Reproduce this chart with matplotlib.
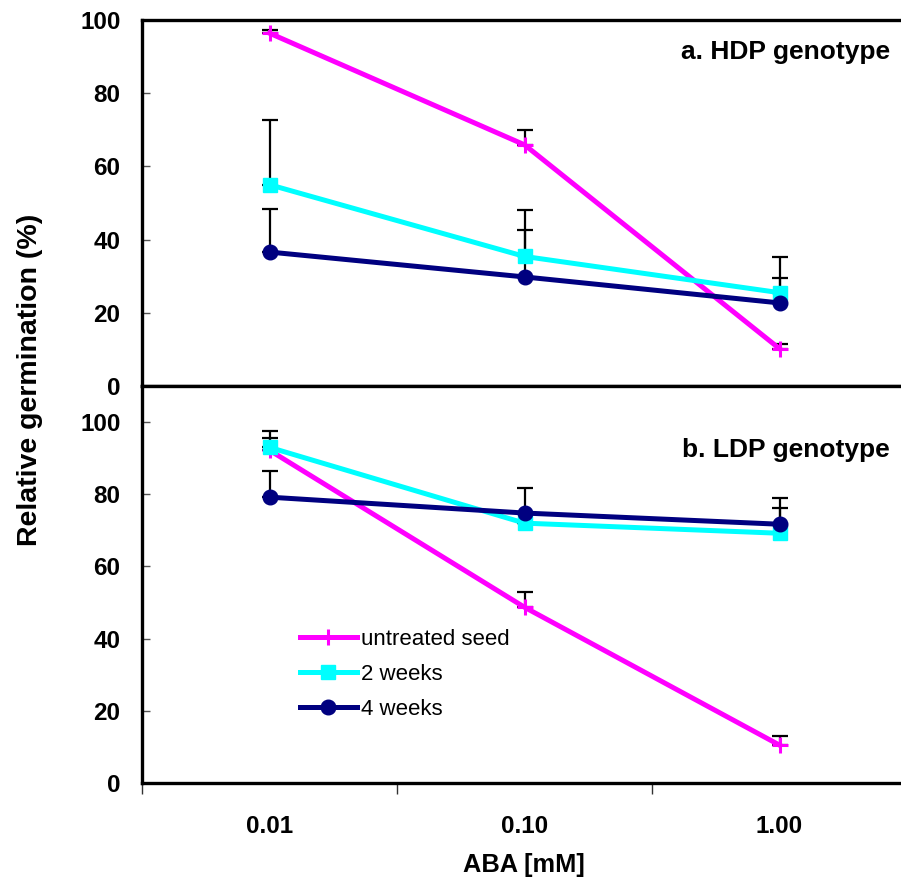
import matplotlib
matplotlib.use("Agg")
import matplotlib.pyplot as plt
import numpy as np

categories = ["0.01", "0.10", "1.00"]
series_names = ["untreated seed", "2 weeks", "4 weeks"]

hdp_untreated = [96.4, 65.9, 10.2]
hdp_untreated_err = [1.0, 4.1, 1.2]
hdp_2wk = [55.0, 35.4, 25.5]
hdp_2wk_err = [17.7, 12.8, 9.8]
hdp_4wk = [36.6, 29.8, 22.7]
hdp_4wk_err = [11.8, 12.9, 6.9]

ldp_untreated = [92.2, 48.7, 10.5]
ldp_untreated_err = [3.3, 4.2, 2.5]
ldp_2wk = [93.0, 72.0, 69.2]
ldp_2wk_err = [4.4, 0.0, 6.9]
ldp_4wk = [79.2, 74.8, 71.7]
ldp_4wk_err = [7.2, 6.9, 7.2]

yticks = [0, 20, 40, 60, 80, 100]

colors = ["#FF00FF", "#00FFFF", "#000080"]
markers = ["+", "s", "o"]

plt.rcParams['font.family'] = ['Liberation Sans', 'DejaVu Sans']

W, H = 901, 888
fig = plt.figure(figsize=(W / 100, H / 100), dpi=100)

def fx(px):
    return px / W

def fy(py):
    return 1 - py / H

left = fx(142)
width = fx(907) - left
ax_top = fig.add_axes([left, fy(386), width, fy(20) - fy(386)])
ax_bot = fig.add_axes([left, fy(783), width, fy(386) - fy(783)])

x = np.arange(1, len(categories) + 1)


def draw(ax, vals, errs, ymax):
    for i, (v, e) in enumerate(zip(vals, errs)):
        ax.errorbar(x, v, yerr=[np.zeros(len(e)), e], fmt='none', ecolor='black',
                    elinewidth=1.6, capsize=5.5, capthick=1.6, zorder=2)
    for i, v in enumerate(vals):
        ms = 11 if markers[i] == '+' else 10.5
        ax.plot(x, v, color=colors[i], marker=markers[i], markersize=ms,
                markeredgewidth=2.2 if markers[i] == '+' else 1,
                markerfacecolor=colors[i], markeredgecolor=colors[i],
                linewidth=3.6, zorder=3 + i, label=series_names[i],
                clip_on=False)
    ax.set_xlim(0.5, 3.5)
    ax.set_ylim(0, ymax)
    ax.set_yticks(yticks)
    ax.set_yticklabels([str(t) for t in yticks], fontsize=17.5, fontweight='bold')
    ax.tick_params(axis='y', direction='in', length=6, width=1, color='#555555', pad=15.5)
    for s in ['left', 'top', 'bottom']:
        ax.spines[s].set_linewidth(2.4)
        ax.spines[s].set_color('black')
    ax.spines['right'].set_visible(False)


draw(ax_top, [hdp_untreated, hdp_2wk, hdp_4wk],
     [hdp_untreated_err, hdp_2wk_err, hdp_4wk_err], 100)
draw(ax_bot, [ldp_untreated, ldp_2wk, ldp_4wk],
     [ldp_untreated_err, ldp_2wk_err, ldp_4wk_err], 110)

ax_top.set_xticks([])
ax_top.set_xticks([], minor=True)

ax_bot.set_xticks([0.5, 1.5, 2.5, 3.5])
ax_bot.set_xticklabels([])
ax_bot.tick_params(axis='x', which='major', direction='out', length=8, width=1, color='#333333')
ax_bot.set_xticks(x, minor=True)
ax_bot.set_xticklabels(categories, minor=True, fontsize=17.5, fontweight='bold')
ax_bot.tick_params(axis='x', which='minor', length=0, pad=23)

fig.text(fx(30), fy(380), "Relative germination (%)", rotation=90, ha='center',
         va='center', fontsize=20.5, fontweight='bold')
fig.text(fx(524), fy(865), "ABA [mM]", ha='center', va='center',
         fontsize=18.3, fontweight='bold')
fig.text(fx(890), fy(59), "a. HDP genotype", ha='right', va='baseline',
         fontsize=19, fontweight='bold')
fig.text(fx(890), fy(457), "b. LDP genotype", ha='right', va='baseline',
         fontsize=19, fontweight='bold')

ax_bot.legend(loc='upper left', bbox_to_anchor=(fx(300), fy(629)),
              bbox_transform=fig.transFigure, frameon=False, fontsize=16,
              handlelength=2.55, handletextpad=0.2, labelspacing=0.62,
              borderpad=0, borderaxespad=0, markerscale=1.0)

fig.savefig("out.png", dpi=100)
